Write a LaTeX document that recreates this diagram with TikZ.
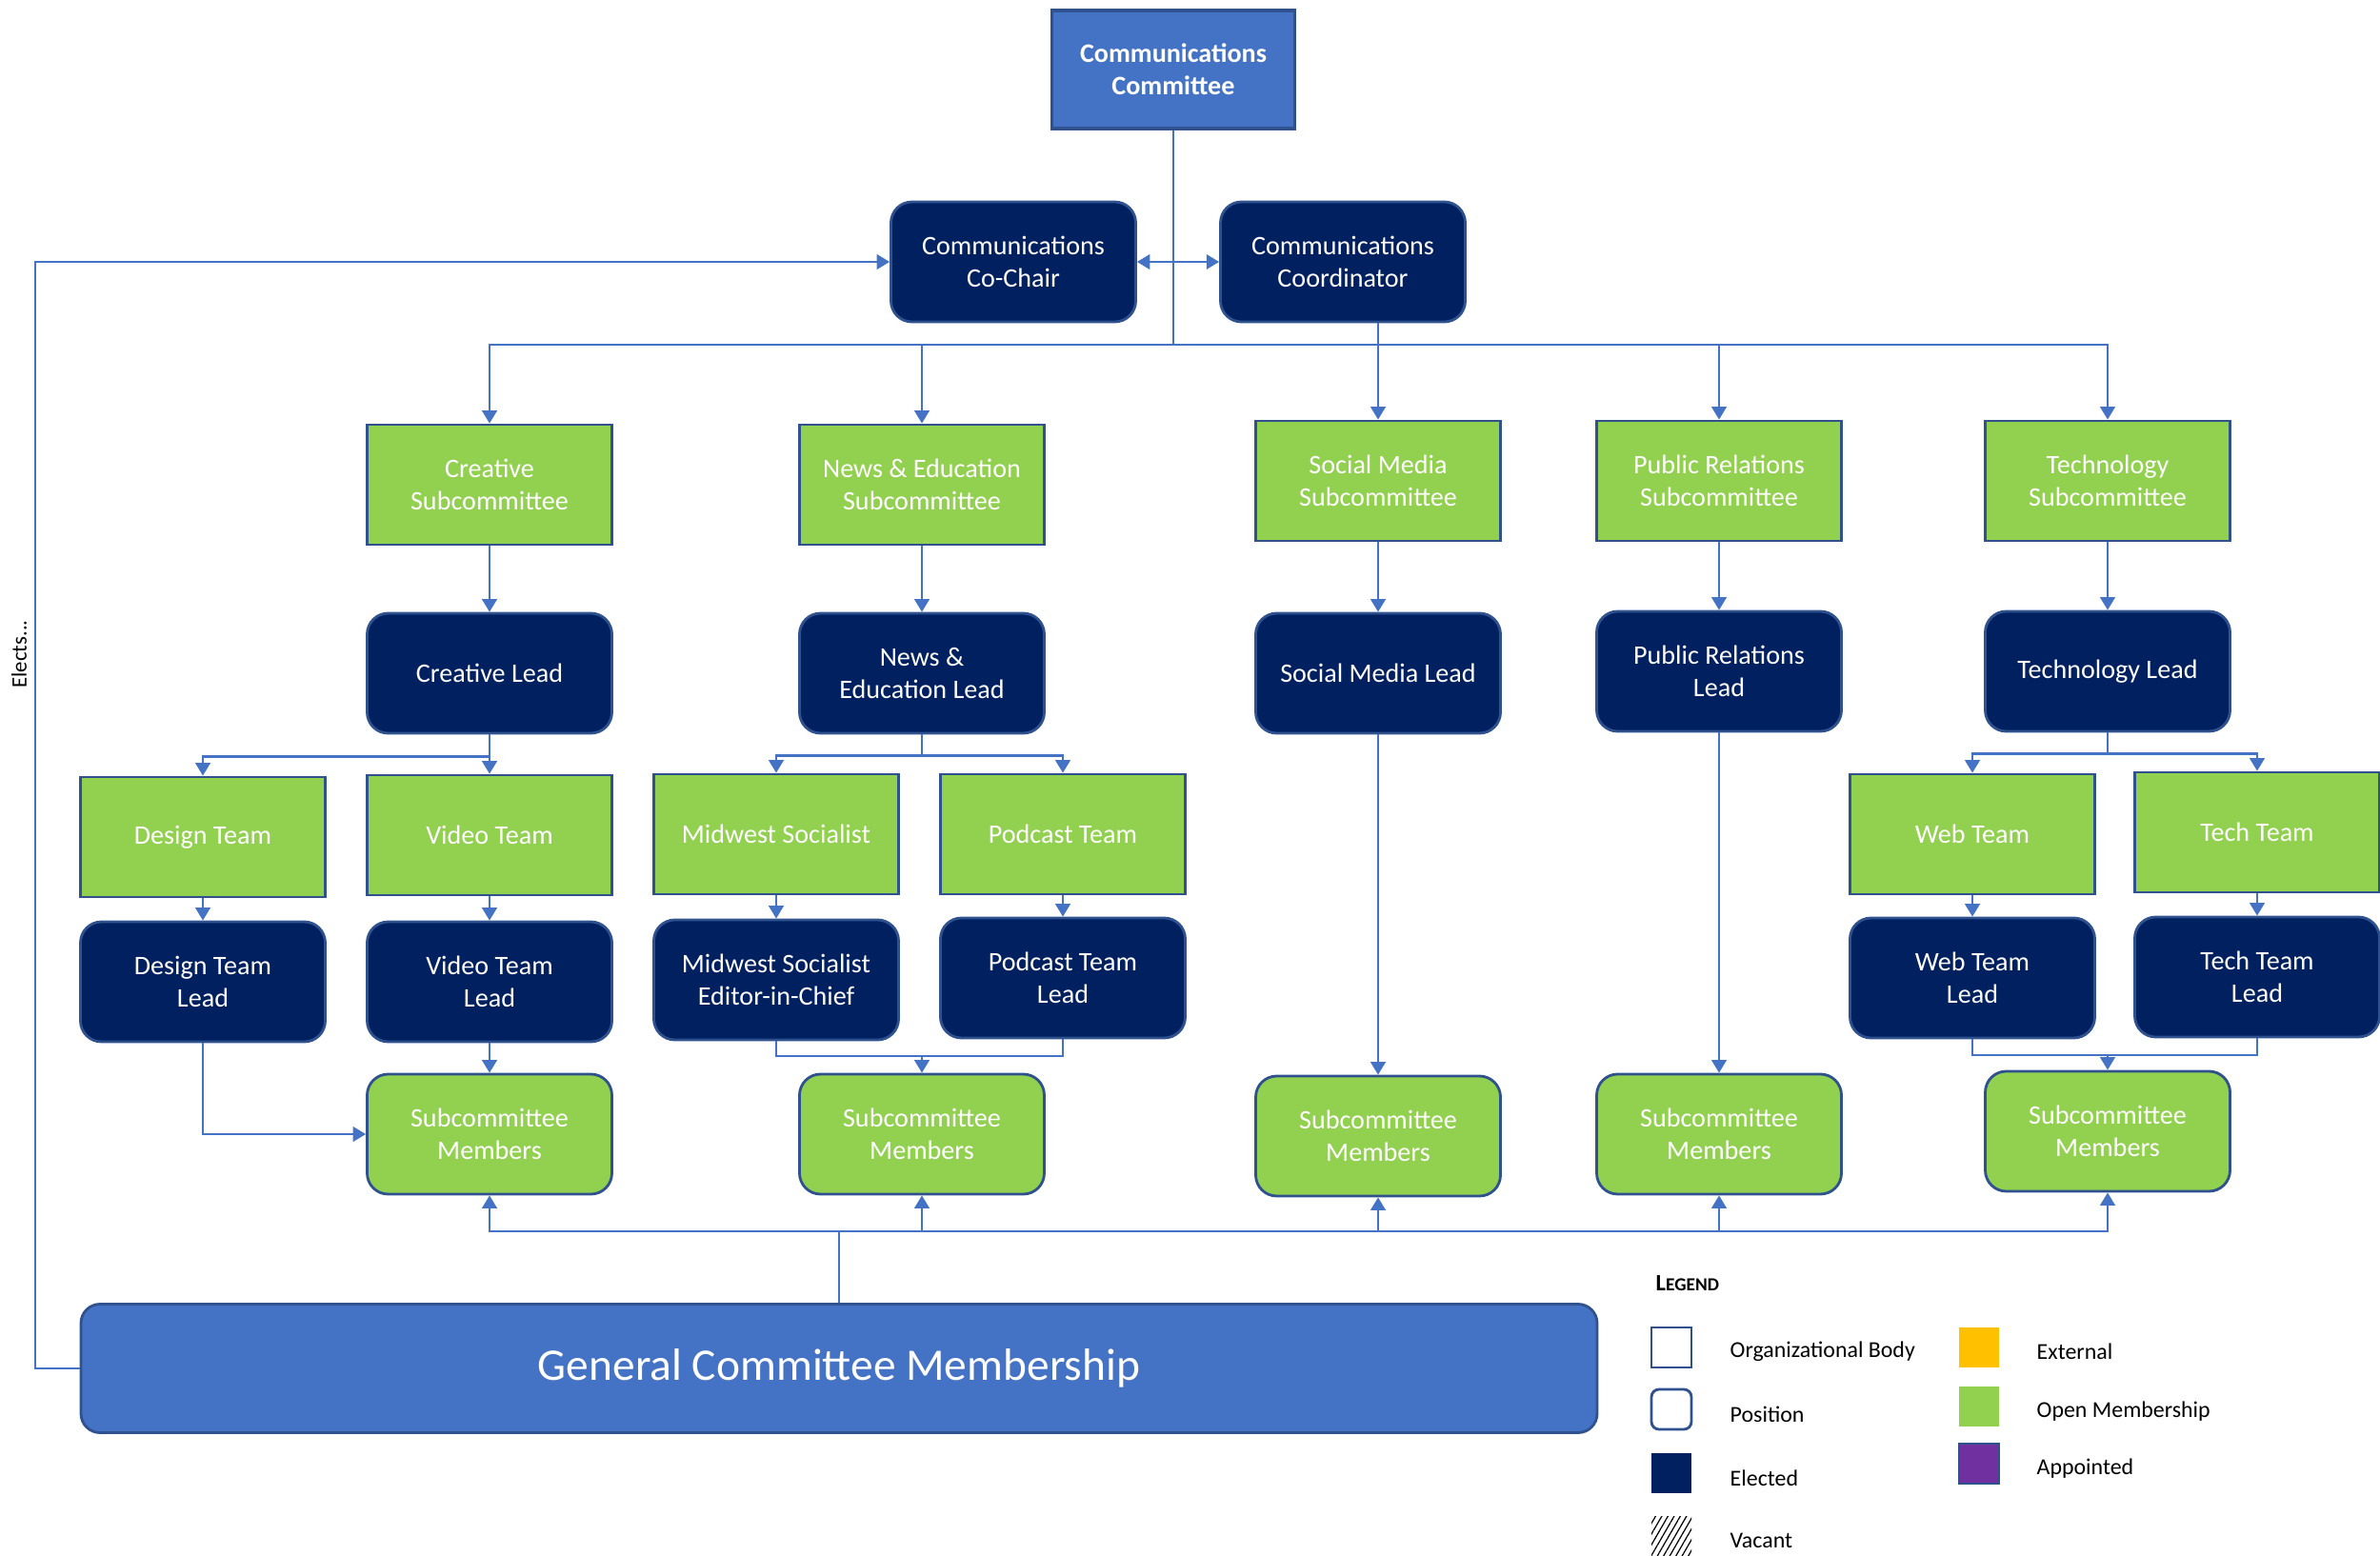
\documentclass[tikz,border=0pt]{standalone}
\usepackage{fontspec}
\setmainfont{Carlito}
\usetikzlibrary{arrows.meta,patterns.meta}
\definecolor{cblue}{HTML}{4472C4}
\definecolor{cnavy}{HTML}{002060}
\definecolor{cgreen}{HTML}{92D050}
\definecolor{cedge}{HTML}{2F528F}
\definecolor{cgold}{HTML}{FFC000}
\definecolor{cpurple}{HTML}{7030A0}

\begin{document}
\begin{tikzpicture}[
    conn/.style={draw=cblue, line width=0.7pt},
    arr/.style={conn, -{Triangle[length=3.8pt,width=4.4pt]}},
    boxbase/.style={draw=cedge, line width=0.8pt, minimum width=2.57cm, minimum height=1.26cm,
      inner sep=0pt, align=center, text=white, font=\fontsize{8}{9.7}\selectfont},
    subbody/.style={boxbase, fill=cgreen},
    electpos/.style={boxbase, fill=cnavy, rounded corners=0.22cm},
    openpos/.style={boxbase, fill=cgreen, rounded corners=0.22cm},
    legtext/.style={anchor=west, inner sep=0pt, font=\fontsize{6.8}{8}\selectfont},
    swatch/.style={minimum width=0.42cm, minimum height=0.42cm, inner sep=0pt}
  ]
  \useasboundingbox (0,0) rectangle (24.99,-16.34);

  \node[subbody, fill=cblue, minimum width=2.55cm, minimum height=1.24cm, line width=1pt,
    font=\fontsize{8}{9.7}\selectfont\bfseries] (comm) at (12.32,-0.73) {Communications\\Committee};
  \node[electpos] (cochair) at (10.64,-2.75) {Communications\\Co-Chair};
  \node[electpos] (coord) at (14.10,-2.75) {Communications\\Coordinator};

  \node[subbody] (creative) at (5.14,-5.09) {Creative\\Subcommittee};
  \node[subbody] (news) at (9.68,-5.09) {News \& Education\\Subcommittee};
  \node[subbody] (social) at (14.47,-5.05) {Social Media\\Subcommittee};
  \node[subbody] (pr) at (18.05,-5.05) {Public Relations\\Subcommittee};
  \node[subbody] (tech) at (22.13,-5.05) {Technology\\Subcommittee};

  \node[electpos] (creativelead) at (5.14,-7.07) {Creative Lead};
  \node[electpos] (newslead) at (9.68,-7.07) {News \&\\Education Lead};
  \node[electpos] (sociallead) at (14.47,-7.07) {Social Media Lead};
  \node[electpos] (prlead) at (18.05,-7.05) {Public Relations\\Lead};
  \node[electpos] (techlead) at (22.13,-7.05) {Technology Lead};

  \node[subbody] (design) at (2.13,-8.79) {Design Team};
  \node[subbody] (video) at (5.14,-8.77) {Video Team};
  \node[subbody] (midwest) at (8.15,-8.76) {Midwest Socialist};
  \node[subbody] (podcast) at (11.16,-8.76) {Podcast Team};
  \node[subbody] (web) at (20.71,-8.76) {Web Team};
  \node[subbody] (techteam) at (23.70,-8.74) {Tech Team};

  \node[electpos] (designlead) at (2.13,-10.31) {Design Team\\Lead};
  \node[electpos] (videolead) at (5.14,-10.31) {Video Team\\Lead};
  \node[electpos] (midwestlead) at (8.15,-10.29) {Midwest Socialist\\Editor-in-Chief};
  \node[electpos] (podcastlead) at (11.16,-10.27) {Podcast Team\\Lead};
  \node[electpos] (weblead) at (20.71,-10.27) {Web Team\\Lead};
  \node[electpos] (techteamlead) at (23.70,-10.26) {Tech Team\\Lead};

  \node[openpos] (mem1) at (5.14,-11.91) {Subcommittee\\Members};
  \node[openpos] (mem2) at (9.68,-11.91) {Subcommittee\\Members};
  \node[openpos] (mem3) at (14.47,-11.93) {Subcommittee\\Members};
  \node[openpos] (mem4) at (18.05,-11.91) {Subcommittee\\Members};
  \node[openpos] (mem5) at (22.13,-11.88) {Subcommittee\\Members};

  \node[boxbase, fill=cblue, rounded corners=0.2cm, minimum width=15.92cm, minimum height=1.35cm,
    font=\fontsize{13.5}{16}\selectfont] (gcm) at (8.81,-14.37) {General Committee Membership};

  \node[rotate=90, inner sep=0pt, font=\fontsize{6.5}{8}\selectfont] (elects) at (0.20,-6.87) {Elects...};

  \coordinate (bus) at (12.32,-3.62);
  \coordinate (elx) at (0.37,-2.75);
  \coordinate (newsjoin) at (9.68,-11.09);
  \coordinate (techjoin) at (22.13,-11.08);
  \coordinate (gbus) at (8.81,-12.93);

  \draw[conn] (comm) -- (bus);
  \draw[conn, {Triangle[length=3.8pt,width=4.4pt]}-{Triangle[length=3.8pt,width=4.4pt]}] (cochair) -- (coord);
  \draw[arr] (bus) -| (creative.north);
  \draw[arr] (bus) -| (news.north);
  \draw[arr] (bus) -| (pr.north);
  \draw[arr] (bus) -| (tech.north);
  \draw[arr] (coord.south -| social.north) -- (social.north);
  \draw[arr] (gcm.west) -| (elx) -- (cochair.west);

  \draw[arr] (creative) -- (creativelead);
  \draw[arr] (news) -- (newslead);
  \draw[arr] (social) -- (sociallead);
  \draw[arr] (pr) -- (prlead);
  \draw[arr] (tech) -- (techlead);

  \draw[arr] (creativelead.south) -- ++(0,-0.23) -| (design.north);
  \draw[arr] (creativelead) -- (video);
  \draw[arr] (newslead.south) -- ++(0,-0.22) -| (midwest.north);
  \draw[arr] (newslead.south) -- ++(0,-0.22) -| (podcast.north);
  \draw[arr] (techlead.south) -- ++(0,-0.22) -| (web.north);
  \draw[arr] (techlead.south) -- ++(0,-0.22) -| (techteam.north);

  \draw[arr] (design) -- (designlead);
  \draw[arr] (video) -- (videolead);
  \draw[arr] (midwest) -- (midwestlead);
  \draw[arr] (podcast) -- (podcastlead);
  \draw[arr] (web) -- (weblead);
  \draw[arr] (techteam) -- (techteamlead);

  \draw[arr] (designlead.south) |- (mem1.west);
  \draw[arr] (videolead) -- (mem1);
  \draw[conn] (midwestlead.south) |- (newsjoin) -| (podcastlead.south);
  \draw[arr] (newsjoin) -- (mem2);
  \draw[arr] (sociallead) -- (mem3);
  \draw[arr] (prlead) -- (mem4);
  \draw[conn] (weblead.south) |- (techjoin) -| (techteamlead.south);
  \draw[arr] (techjoin) -- (mem5);

  \draw[conn] (gcm.north) -- (gbus);
  \draw[arr] (gbus) -| (mem1.south);
  \draw[arr] (gbus) -| (mem2.south);
  \draw[arr] (gbus) -| (mem3.south);
  \draw[arr] (gbus) -| (mem4.south);
  \draw[arr] (gbus) -| (mem5.south);

  \node[anchor=west, inner sep=0pt] (legend) at (17.38,-13.48)
    {\bfseries\fontsize{7}{8}\selectfont L\fontsize{5.5}{6}\selectfont EGEND};
  \node[swatch, draw=cedge, line width=0.8pt, fill=white] (orgsw) at (17.55,-14.15) {};
  \node[swatch, draw=cedge, line width=0.8pt, fill=white, rounded corners=0.08cm] (possw) at (17.55,-14.80) {};
  \node[swatch, fill=cnavy] (elesw) at (17.55,-15.47) {};
  \node[swatch, pattern={Lines[angle=60,distance=1.6pt,line width=0.35pt]}] (vacsw) at (17.55,-16.13) {};
  \node[legtext] (orgtx) at (18.16,-14.19) {Organizational Body};
  \node[legtext] (postx) at (18.16,-14.85) {Position};
  \node[legtext] (eletx) at (18.16,-15.52) {Elected};
  \node[legtext] (vactx) at (18.16,-16.18) {Vacant};
  \node[swatch, fill=cgold] (extsw) at (20.78,-14.15) {};
  \node[swatch, fill=cgreen] (opensw) at (20.78,-14.77) {};
  \node[swatch, draw=cedge, line width=0.8pt, fill=cpurple] (appsw) at (20.78,-15.37) {};
  \node[legtext] (exttx) at (21.38,-14.19) {External};
  \node[legtext] (opentx) at (21.38,-14.82) {Open Membership};
  \node[legtext] (apptx) at (21.38,-15.42) {Appointed};
\end{tikzpicture}
\end{document}
